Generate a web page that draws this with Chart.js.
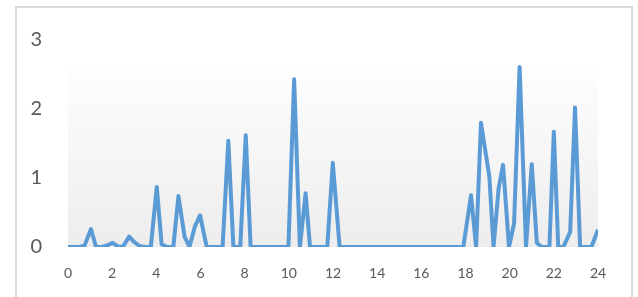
<!DOCTYPE html>
<html>
<head>
<meta charset="utf-8">
<script src="https://cdn.jsdelivr.net/npm/chart.js@4/dist/chart.umd.min.js"></script>
<style>
  html, body { margin: 0; padding: 0; background: #fff; }
  #frame {
    position: absolute; left: 15px; top: 6px; width: 614px; height: 310px;
    border: 2px solid #d9d9d9; background: #fff;
  }
  #wrap { position: absolute; left: 0; top: 0; width: 638px; height: 297px; }
</style>
</head>
<body>
<div id="frame"></div>
<div id="wrap"><canvas id="chart" width="638" height="297"></canvas></div>
<script>
// readings, hour of day -> value
const hours = [0, 0.25, 0.5, 0.75, 1.04, 1.27, 1.5, 1.75, 2.02, 2.3, 2.5, 2.77, 3.0, 3.27, 3.5, 3.75,
  4.02, 4.24, 4.5, 4.77, 5.0, 5.28, 5.5, 5.75, 5.98, 6.28, 6.5, 6.75, 7.0, 7.26, 7.49, 7.8, 8.05, 8.27,
  9.98, 10.24, 10.5, 10.76, 10.96, 11.74, 11.99, 12.3, 17.9, 18.25, 18.48, 18.7, 19.08, 19.27, 19.5, 19.7,
  19.97, 20.2, 20.45, 20.74, 21.0, 21.23, 21.45, 21.8, 22.0, 22.2, 22.43, 22.74, 22.96, 23.19, 23.7, 24.0];
const values = [0, 0, 0, 0.02, 0.26, 0, 0, 0.02, 0.06, 0, 0.01, 0.15, 0.07, 0.01, 0, 0,
  0.87, 0.04, 0, 0, 0.74, 0.15, 0, 0.3, 0.46, 0, 0, 0, 0, 1.54, 0, 0, 1.62, 0,
  0, 2.43, 0, 0.78, 0, 0, 1.22, 0, 0, 0.75, 0, 1.8, 1.02, 0, 0.85, 1.19,
  0, 0.34, 2.61, 0, 1.2, 0.06, 0, 0, 1.67, 0, 0, 0.22, 2.02, 0, 0, 0.25];

// shaded backdrop band
const bandHours = [0, 24];
const bandValues = [2.67, 2.67];

const yTicks = [0, 1, 2, 3];

const toPoints = (xs, ys) => xs.map((x, i) => ({ x: x, y: ys[i] }));

const bandFill = (ctx) => {
  const area = ctx.chart.chartArea;
  if (!area) return '#f2f2f2';
  const y0 = ctx.chart.scales.y.getPixelForValue(bandValues[0]);
  const g = ctx.chart.ctx.createLinearGradient(0, y0, 0, area.bottom);
  g.addColorStop(0, '#fefefe');
  g.addColorStop(1, '#ededed');
  return g;
};

new Chart(document.getElementById('chart'), {
  type: 'line',
  data: {
    datasets: [
      {
        data: toPoints(hours, values),
        borderColor: '#5b9bd5',
        borderWidth: 4,
        borderJoinStyle: 'round',
        pointRadius: 0,
        tension: 0,
        fill: false,
        order: 1
      },
      {
        data: toPoints(bandHours, bandValues),
        borderWidth: 0,
        pointRadius: 0,
        fill: 'origin',
        backgroundColor: bandFill,
        order: 2
      }
    ]
  },
  options: {
    responsive: false,
    animation: false,
    layout: { padding: { left: 20, right: 40, top: 40, bottom: 0 } },
    plugins: { legend: { display: false }, tooltip: { enabled: false } },
    scales: {
      x: {
        type: 'linear',
        min: 0,
        max: 24,
        grid: { display: false },
        border: { display: false },
        ticks: { stepSize: 2, color: '#595959', padding: 10, maxRotation: 0,
          font: { family: 'Lato', size: 14 } },
        afterFit: (s) => { s.height = 50; }
      },
      y: {
        min: 0,
        max: 3,
        grid: { display: false },
        border: { display: false },
        afterBuildTicks: (s) => { s.ticks = yTicks.map(v => ({ value: v })); },
        ticks: { color: '#595959', padding: 18, font: { family: 'Lato', size: 20 } },
        afterFit: (s) => { s.width = 48; }
      }
    }
  }
});
</script>
</body>
</html>
